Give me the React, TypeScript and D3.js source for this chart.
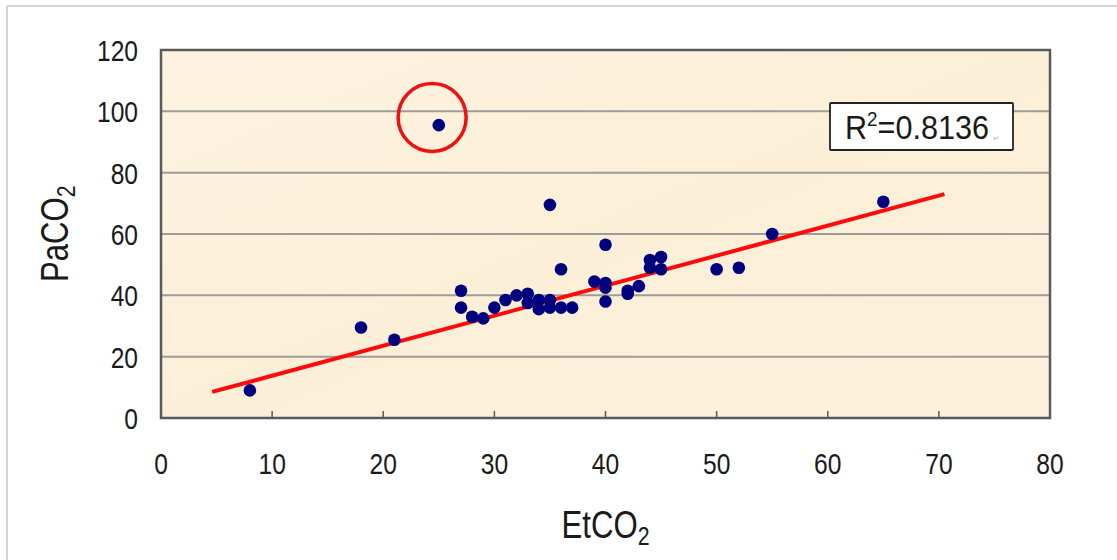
import React from "react";
import * as d3 from "d3";

const etco2: number[] = [8, 18, 21, 25, 27, 27, 28, 29, 30, 31, 32, 33, 33, 34, 34, 35, 35, 35, 36, 36, 37, 39, 40, 40, 40, 40, 42, 42, 43, 44, 44, 45, 45, 50, 52, 55, 65];
const paco2: number[] = [9, 29.5, 25.5, 95.5, 41.5, 36, 33, 32.5, 36, 38.5, 40, 40.5, 37.5, 38.5, 35.5, 38.5, 36, 69.5, 48.5, 36, 36, 44.5, 56.5, 44, 42.5, 38, 41.5, 40.5, 43, 51.5, 49, 52.5, 48.5, 48.5, 49, 60, 70.5];
const xTicks: number[] = [0, 10, 20, 30, 40, 50, 60, 70, 80];
const yTicks: number[] = [0, 20, 40, 60, 80, 100, 120];
const fitLine: [number, number][] = [[4.6, 8.5], [70.5, 73]];
const outlier: [number, number] = [24.4, 98];
const r2Label = "0.8136";

const W = 1117;
const H = 560;
const left = 161, right = 1050, top = 50, bottom = 418;
const FONT = "'Liberation Sans', Arial, sans-serif";
const SX = 0.82;

export default function App() {
  const x = d3.scaleLinear().domain([0, 80]).range([left, right]);
  const y = d3.scaleLinear().domain([0, 120]).range([bottom, top]);
  const line = d3.line<[number, number]>().x(d => x(d[0])).y(d => y(d[1]));
  const pts = etco2.map((v, i) => [v, paco2[i]] as [number, number]);

  return (
    <svg width={W} height={H} style={{ position: "absolute", left: 0, top: 0 }} fontFamily={FONT}>
      <defs>
        <linearGradient id="bg" x1="0" y1="0" x2="1" y2="1">
          <stop offset="0" stopColor="#fdf3e0" />
          <stop offset="0.5" stopColor="#fcefd8" />
          <stop offset="1" stopColor="#fdf1dc" />
        </linearGradient>
      </defs>
      <rect x={0} y={0} width={W} height={H} fill="#ffffff" />
      <line x1={7} y1={6} x2={W} y2={6} stroke="#d4d4d4" strokeWidth={2} />
      <line x1={7} y1={6} x2={7} y2={H} stroke="#d4d4d4" strokeWidth={2} />
      <rect x={left} y={top} width={right - left} height={bottom - top} fill="url(#bg)" />
      {yTicks.filter(t => t > 0 && t < 120).map(t => (
        <line key={t} x1={left} x2={right} y1={y(t)} y2={y(t)} stroke="#9e9c98" strokeWidth={2} />
      ))}
      {xTicks.filter(t => t > 0 && t < 80).map(t => (
        <line key={t} x1={x(t)} x2={x(t)} y1={bottom} y2={bottom - 7} stroke="#5a5a5a" strokeWidth={1.5} />
      ))}
      <rect x={left} y={top} width={right - left} height={bottom - top} fill="none" stroke="#5a5a5a" strokeWidth={2.5} />
      {yTicks.map(t => (
        <text key={t} transform={`translate(138, ${y(t) + 11}) scale(${SX},1)`} textAnchor="end" fontSize={30} fill="#1a1a1a">{t}</text>
      ))}
      {xTicks.map(t => (
        <text key={t} transform={`translate(${x(t)}, 474) scale(${SX},1)`} textAnchor="middle" fontSize={30} fill="#1a1a1a">{t}</text>
      ))}
      <text transform={`translate(${x(40) - 44}, 538) scale(${SX},1)`} fontSize={38} fill="#1a1a1a">EtCO<tspan fontSize={26} dy={7}>2</tspan></text>
      <text transform={`translate(68, ${(top + bottom) / 2 + 48}) rotate(-90) scale(${SX},1)`} fontSize={38} fill="#1a1a1a">PaCO<tspan fontSize={26} dy={7}>2</tspan></text>
      <path d={line(fitLine) || ""} stroke="#ff0a0a" strokeWidth={4} fill="none" />
      {pts.map((p, i) => (
        <circle key={i} cx={x(p[0])} cy={y(p[1])} r={6.3} fill="#00007e" />
      ))}
      <circle cx={x(outlier[0])} cy={y(outlier[1])} r={34} fill="none" stroke="#ee1111" strokeWidth={3.5} />
      <rect x={830} y={103} width={183} height={47} fill="#ffffff" stroke="#222" strokeWidth={1.8} rx={1} />
      <text transform={`translate(845, 139) scale(0.9,1)`} fontSize={34} fill="#1a1a1a">R<tspan fontSize={21} dy={-13}>2</tspan><tspan dy={13}>={r2Label}</tspan></text>
      <text x={993} y={141} fontSize={8} fill="#b0b0b0">↵</text>
    </svg>
  );
}
